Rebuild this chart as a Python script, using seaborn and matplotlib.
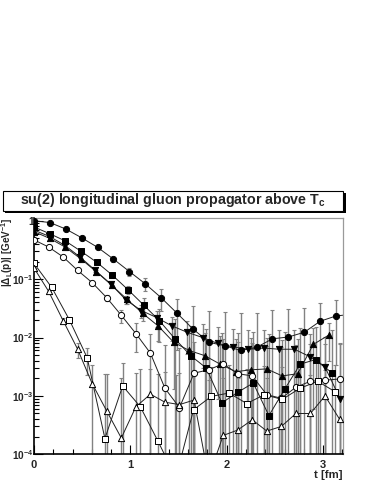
import numpy as np
import pandas as pd
import matplotlib
matplotlib.use("Agg")
import matplotlib.pyplot as plt
import seaborn as sns
from matplotlib.patches import Rectangle
from matplotlib.ticker import FixedLocator, FixedFormatter, MultipleLocator, LogLocator, NullFormatter

# --- data (t in fm, |Delta_L| in GeV^-1) ---
t_fcirc = [0.0, 0.165, 0.33, 0.495, 0.66, 0.825, 0.99, 1.155, 1.32, 1.485, 1.65,
           1.815, 1.98, 2.145, 2.31, 2.475, 2.64, 2.805, 2.97, 3.135, 3.30]
v_fcirc = [1.0, 0.93, 0.72, 0.51, 0.35, 0.22, 0.135, 0.083, 0.048, 0.026, 0.014,
           0.0083, 0.0072, 0.0060, 0.0068, 0.0095, 0.0102, 0.0123, 0.019, 0.0234, 0.025]

t_fsq = [0.0, 0.163, 0.325, 0.488, 0.65, 0.813, 0.975, 1.138, 1.30, 1.463,
         1.625, 1.788, 1.95, 2.113, 2.275, 2.438, 2.60, 2.763, 2.925, 3.088]
v_fsq = [0.78, 0.60, 0.45, 0.30, 0.195, 0.117, 0.066, 0.036, 0.0195, 0.0095,
         0.0049, 0.0030, 0.00076, 0.00115, 0.00166, 0.00046, 0.00129, 0.0035, 0.0042, 0.0025]

t_fdown = [0.0, 0.159, 0.318, 0.477, 0.636, 0.795, 0.954, 1.113, 1.272, 1.431, 1.59,
           1.749, 1.908, 2.067, 2.226, 2.385, 2.544, 2.703, 2.862, 3.021, 3.18]
v_fdown = [0.69, 0.54, 0.38, 0.24, 0.141, 0.083, 0.044, 0.029, 0.022, 0.0158, 0.0123,
           0.0100, 0.0079, 0.0069, 0.0063, 0.0066, 0.0063, 0.0063, 0.0047, 0.0031, 0.00087]

t_fup = [0.0, 0.161, 0.322, 0.483, 0.644, 0.805, 0.966, 1.127, 1.288, 1.449,
         1.61, 1.771, 1.932, 2.093, 2.254, 2.415, 2.576, 2.737, 2.898, 3.059]
v_fup = [0.65, 0.50, 0.355, 0.224, 0.135, 0.079, 0.045, 0.026, 0.0158, 0.0083,
         0.0060, 0.0049, 0.0035, 0.0026, 0.0028, 0.0029, 0.0022, 0.0024, 0.0076, 0.011]

t_ocirc = [0.0, 0.151, 0.302, 0.453, 0.604, 0.755, 0.906, 1.057, 1.208, 1.359, 1.51,
           1.661, 1.812, 1.963, 2.114, 2.265, 2.416, 2.567, 2.718, 2.869, 3.02, 3.171]
v_ocirc = [0.47, 0.355, 0.24, 0.141, 0.087, 0.048, 0.024, 0.0117, 0.0054, 0.00135, 0.00063,
           0.00245, 0.0028, 0.00355, 0.0024, 0.0022, 0.00105, 0.00091, 0.00141, 0.00178,
           0.00186, 0.00195]

t_osq = [0.0, 0.184, 0.368, 0.552, 0.736, 0.92, 1.104, 1.288, 1.472, 1.656,
         1.84, 2.024, 2.208, 2.392, 2.576, 2.76, 2.944, 3.128]
v_osq = [0.186, 0.072, 0.020, 0.0045, 0.000186, 0.00148, 0.00065, 0.000166, 0.00004,
         0.00058, 0.00098, 0.00112, 0.00074, 0.00105, 0.00087, 0.00135, 0.00178, 0.00117]

t_oup = [0.0, 0.151, 0.302, 0.453, 0.604, 0.755, 0.906, 1.057, 1.208, 1.359, 1.51,
         1.661, 1.812, 1.963, 2.114, 2.265, 2.416, 2.567, 2.718, 2.869, 3.02, 3.171]
v_oup = [0.155, 0.062, 0.0195, 0.0063, 0.00162, 0.00055, 0.00019, 0.00065, 0.00107,
         0.00078, 0.00071, 0.00085, 0.00004, 0.00021, 0.00026, 0.00039, 0.00025, 0.0003,
         0.0005, 0.0005, 0.001, 0.0004]

# rough absolute error per series
err_series = [0.02, 0.011, 0.007, 0.007, 0.006, 0.0022, 0.0018]

series_names = ["fcirc", "fsq", "fdown", "fup", "ocirc", "osq", "oup"]
series_t = [t_fcirc, t_fsq, t_fdown, t_fup, t_ocirc, t_osq, t_oup]
series_v = [v_fcirc, v_fsq, v_fdown, v_fup, v_ocirc, v_osq, v_oup]
series_marker = ["o", "s", "v", "^", "o", "s", "^"]
series_fill = ["black", "black", "black", "black", "white", "white", "white"]

ytick_vals = [1e-4, 1e-3, 1e-2, 1e-1, 1.0]
ytick_labels = ["$10^{-4}$", "$10^{-3}$", "$10^{-2}$", "$10^{-1}$", "1"]
xtick_vals = [0, 1, 2, 3]
xtick_labels = ["0", "1", "2", "3"]

title = r"su(2) longitudinal gluon propagator above T$_{\mathbf{c}}$"
ylabel = r"|$\mathbf{\Delta}_{\mathbf{L}}$(p)| [GeV$^{\mathbf{-1}}$]"
xlabel = "t [fm]"

sns.set_style("white")
plt.rcParams["font.family"] = ["Liberation Sans", "DejaVu Sans"]
plt.rcParams["font.weight"] = "bold"
plt.rcParams["mathtext.fontset"] = "custom"
plt.rcParams["mathtext.rm"] = "Liberation Sans:bold"
plt.rcParams["mathtext.bf"] = "Liberation Sans:bold"
plt.rcParams["mathtext.it"] = "Liberation Sans:bold"
plt.rcParams["mathtext.default"] = "bf"

frames = []
for name, t, v in zip(series_names, series_t, series_v):
    frames.append(pd.DataFrame({"series": name, "t": t, "val": v}))
df = pd.concat(frames, ignore_index=True)

fig = plt.figure(figsize=(3.74, 4.84), dpi=100)
ax = fig.add_axes([34.0 / 374, 1 - 454.3 / 484, (343.3 - 34.0) / 374, (454.3 - 218.3) / 484])
ax.set_yscale("log")

# error bars (gray, drawn underneath)
for t, v, e in zip(series_t, series_v, err_series):
    t = np.array(t)
    v = np.array(v)
    lo = np.minimum(e, v * 0.99999)
    hi = np.full_like(v, e)
    ax.errorbar(t, v, yerr=[lo, hi], fmt="none", ecolor="#828282",
                elinewidth=1.0, capsize=1.5, capthick=0.8, zorder=1)

# connecting lines
sns.lineplot(data=df, x="t", y="val", units="series", estimator=None,
             color="#202020", linewidth=0.7, ax=ax, zorder=2, legend=False)

# markers
for name, m, fc in zip(series_names, series_marker, series_fill):
    sub = df[df["series"] == name]
    sns.scatterplot(data=sub, x="t", y="val", marker=m, s=20, color=fc,
                    edgecolor="black", linewidth=0.7, ax=ax, zorder=3, legend=False)

ax.set_xlim(0, 3.21)
ax.set_ylim(1e-4, 1.1)
ax.set_xlabel("")
ax.set_ylabel("")

ax.xaxis.set_major_locator(FixedLocator(xtick_vals))
ax.xaxis.set_major_formatter(FixedFormatter(xtick_labels))
ax.xaxis.set_minor_locator(MultipleLocator(0.2))
ax.yaxis.set_major_locator(FixedLocator(ytick_vals))
ax.yaxis.set_major_formatter(FixedFormatter(ytick_labels))
ax.yaxis.set_minor_locator(LogLocator(base=10, subs=np.arange(2, 10)))
ax.yaxis.set_minor_formatter(NullFormatter())

ax.tick_params(which="both", direction="in", left=True, bottom=True,
               top=False, right=False, width=0.8, color="black")
ax.tick_params(which="major", length=6.5)
ax.tick_params(which="minor", length=3.5)
ax.tick_params(axis="y", pad=0.3, labelsize=7.3)
ax.tick_params(axis="x", pad=4, labelsize=8)

for side in ["left", "bottom"]:
    ax.spines[side].set_color("black")
    ax.spines[side].set_linewidth(1.2)
for side in ["top", "right"]:
    ax.spines[side].set_color("#9a9a9a")
    ax.spines[side].set_linewidth(0.9)

# title box with shadow
bx0, bx1, by0, by1 = 2.7, 343.0, 190.7, 210.7
fig.add_artist(Rectangle(((bx0 + 2.5) / 374, 1 - (by1 + 2.5) / 484),
                         (bx1 - bx0) / 374, (by1 - by0) / 484,
                         transform=fig.transFigure, facecolor="black",
                         edgecolor="none", zorder=5))
fig.add_artist(Rectangle((bx0 / 374, 1 - by1 / 484),
                         (bx1 - bx0) / 374, (by1 - by0) / 484,
                         transform=fig.transFigure, facecolor="white",
                         edgecolor="black", linewidth=0.8, zorder=6))
fig.text((bx0 + bx1) / 2 / 374, 1 - 200.5 / 484, title, ha="center", va="center",
         fontsize=10.3, fontweight="bold", zorder=7)

fig.text(7.2 / 374, 1 - 218.0 / 484, ylabel, rotation=90, ha="center", va="top",
         fontsize=7.2, fontweight="bold")
fig.text(342.7 / 374, 1 - 474.5 / 484, xlabel, ha="right", va="center",
         fontsize=8.2, fontweight="bold")

fig.savefig("out.png", dpi=100)
